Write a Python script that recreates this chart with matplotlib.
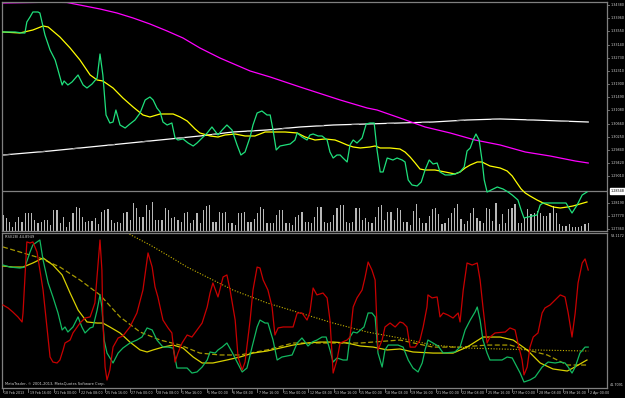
import matplotlib
matplotlib.use("Agg")
import matplotlib.pyplot as plt
from matplotlib.transforms import blended_transform_factory

# ---------------- data (x = bar index of H4 bars, 0 = 18 Feb 2013) ----------------
close_bar = [0.0, 3.8, 6.0, 6.9, 7.5, 8.5, 9.4, 11.0, 11.6, 13.2, 14.8, 16.4, 17.3, 18.6, 19.2, 20.4, 21.7,
             23.6, 25.2, 26.4, 28.0, 29.6, 30.5, 31.4, 32.4, 33.6, 34.6, 35.5, 36.8, 38.4, 39.9, 41.5, 43.1,
             44.7, 46.2, 47.2, 48.4, 49.4, 50.3, 51.6, 53.1, 54.1, 55.0, 56.6, 58.2, 59.8, 61.0, 62.9, 64.2,
             65.7, 67.6, 68.9, 70.4, 72.0, 73.6, 74.8, 76.1, 77.7, 78.6, 79.9, 81.4, 83.0, 84.0, 84.9, 85.9,
             87.1, 88.7, 90.3, 91.8, 92.5, 94.0, 95.6, 96.5, 97.5, 99.1, 100.3, 101.9, 102.8, 103.8, 105.0,
             106.0, 106.9, 108.2, 109.1, 110.1, 111.3, 112.9, 114.2, 115.4, 116.7, 117.6, 118.6, 119.5, 120.8,
             122.6, 123.9, 125.5, 126.4, 127.4, 128.6, 130.2, 131.5, 132.7, 134.0, 135.2, 136.5, 137.4, 139.0,
             140.6, 142.1, 143.7, 145.0, 145.9, 146.9, 147.8, 148.7, 149.7, 150.6, 151.3, 152.2, 154.1, 155.4,
             157.2, 158.8, 160.1, 161.9, 162.9, 163.8, 166.4, 167.9, 168.9, 169.8, 174.2, 177.0, 178.9, 180.5,
             182.1, 183.6]
close_px = [1.33534, 1.33534, 1.33503, 1.33503, 1.33848, 1.34004, 1.34161, 1.34161, 1.34130, 1.33440, 1.32970,
            1.32657, 1.32343, 1.31873, 1.31999, 1.31873, 1.31967, 1.32187, 1.31873, 1.31779, 1.31904, 1.32093,
            1.32845, 1.32187, 1.30933, 1.30682, 1.30713, 1.31089, 1.30619, 1.30525, 1.30651, 1.30776, 1.30995,
            1.31403, 1.31497, 1.31403, 1.31152, 1.31027, 1.30713, 1.30619, 1.30682, 1.30212, 1.30149, 1.30181,
            1.30055, 1.29961, 1.30055, 1.30243, 1.30369, 1.30557, 1.30306, 1.30463, 1.30619, 1.30463, 1.29993,
            1.29679, 1.29773, 1.30243, 1.30619, 1.30995, 1.31058, 1.30933, 1.30933, 1.30463, 1.29836, 1.29961,
            1.29993, 1.30024, 1.30149, 1.30369, 1.30243, 1.30149, 1.30306, 1.30337, 1.30275, 1.30275, 1.30149,
            1.29773, 1.29585, 1.29679, 1.29679, 1.29585, 1.29460, 1.29993, 1.30149, 1.30055, 1.30212, 1.30651,
            1.30682, 1.30682, 1.29836, 1.29147, 1.29147, 1.29585, 1.29522, 1.29585, 1.29522, 1.29460, 1.28896,
            1.28739, 1.28708, 1.28833, 1.29209, 1.29522, 1.29397, 1.29428, 1.29147, 1.29053, 1.29053, 1.29084,
            1.29147, 1.29303, 1.29805, 1.29899, 1.30149, 1.30337, 1.30149, 1.29522, 1.28896, 1.28519, 1.28614,
            1.28676, 1.28614, 1.28519, 1.28425, 1.28269, 1.27955, 1.27705, 1.27767, 1.27799, 1.28112, 1.28175,
            1.28175, 1.28175, 1.27861, 1.28112, 1.28425, 1.28519]

ma_fast_bar = [0.0, 5.3, 9.4, 12.6, 14.2, 17.9, 21.1, 24.2, 27.4, 29.6, 31.4, 34.6, 37.7, 40.9, 44.0, 46.2, 49.4,
               53.5, 55.7, 57.9, 60.4, 61.9, 65.1, 67.6, 69.8, 73.0, 76.1, 79.2, 82.4, 85.5, 88.7, 92.5, 95.0,
               98.1, 101.3, 104.4, 106.0, 108.2, 110.1, 112.3, 115.4, 117.0, 118.6, 121.7, 124.8, 126.4, 128.0,
               129.6, 131.1, 132.7, 135.8, 139.0, 142.1, 143.7, 145.3, 146.9, 149.1, 150.6, 153.1, 156.3, 158.5,
               160.1, 161.6, 162.9, 164.2, 165.7, 167.9, 169.8, 173.0, 175.2, 177.4, 179.2, 181.4, 183.6]
ma_fast_px = [1.33534, 1.33503, 1.33597, 1.33722, 1.33691, 1.33377, 1.33033, 1.32657, 1.32187, 1.32030, 1.31999,
              1.31779, 1.31466, 1.31184, 1.30933, 1.30870, 1.30964, 1.30964, 1.30870, 1.30745, 1.30494, 1.30369,
              1.30275, 1.30243, 1.30306, 1.30337, 1.30275, 1.30275, 1.30400, 1.30400, 1.30400, 1.30369, 1.30243,
              1.30149, 1.30181, 1.30149, 1.30087, 1.29993, 1.29930, 1.29899, 1.29930, 1.29961, 1.29899, 1.29899,
              1.29867, 1.29773, 1.29616, 1.29428, 1.29240, 1.29209, 1.29209, 1.29147, 1.29084, 1.29147, 1.29272,
              1.29366, 1.29460, 1.29460, 1.29334, 1.29272, 1.29178, 1.29021, 1.28801, 1.28614, 1.28488, 1.28394,
              1.28269, 1.28175, 1.28049, 1.28018, 1.28049, 1.28081, 1.28143, 1.28206]

ma_slow_bar = [0.0, 14.8, 20.1, 30.5, 35.8, 40.9, 46.2, 51.6, 56.6, 61.9, 68.2, 77.7, 84.0, 93.4, 106.0, 114.5,
               117.6, 124.8, 132.7, 140.6, 148.4, 156.3, 164.2, 172.0, 179.9, 184.0]
ma_slow_px = [1.34443, 1.34468, 1.34459, 1.34255, 1.34130, 1.33973, 1.33785, 1.33565, 1.33346, 1.33033, 1.32719,
              1.32312, 1.32124, 1.31810, 1.31403, 1.31152, 1.31089, 1.30839, 1.30557, 1.30369, 1.30149, 1.29993,
              1.29773, 1.29648, 1.29491, 1.29428]

ma_long_bar = [0.0, 14.8, 30.5, 46.2, 61.9, 72.3, 83.0, 93.4, 103.8, 114.5, 124.8, 135.2, 145.9, 156.3, 166.7,
               175.2, 184.0]
ma_long_px = [1.29679, 1.29805, 1.29961, 1.30118, 1.30275, 1.30400, 1.30463, 1.30557, 1.30619, 1.30651, 1.30682,
              1.30713, 1.30776, 1.30808, 1.30776, 1.30745, 1.30713]

volume = [16, 13, 9, 4, 9, 14, 9, 18, 18, 18, 11, 8, 9, 11, 11, 6, 21, 21, 8, 14, 4, 9, 18, 24, 23, 14, 9, 10, 10,
          13, 7, 19, 21, 22, 11, 8, 9, 8, 18, 19, 11, 28, 23, 14, 14, 26, 21, 29, 11, 11, 11, 23, 21, 13, 14, 11,
          9, 18, 19, 8, 11, 18, 8, 21, 25, 26,
          9, 9, 19, 18, 19, 8, 8, 6, 18, 18, 19, 9, 9, 12, 18, 24, 22, 8, 8, 8, 16, 21, 21, 8, 8, 6, 14, 16, 19,
          9, 9, 8, 14, 24, 24, 9, 8, 9, 16, 23, 26, 26, 9, 8, 9, 23, 23, 11, 13, 9, 8, 14, 24, 26, 11, 19, 19, 11,
          23, 21, 9, 9, 6,
          20, 27, 13, 8, 8, 15, 22, 23, 17, 7, 8, 13, 18, 23, 27, 12, 7, 10, 18, 23, 13, 10, 8, 23, 22, 10, 28, 7,
          17, 8, 22, 23, 27, 8, 8, 13, 22, 17, 18, 20, 18, 15, 15, 18, 25, 18, 7, 5, 5, 7, 4, 4, 4, 5, 7, 8]

bid_price = 1.28548
price_ticks = [1.34380, 1.33960, 1.33550, 1.33140, 1.32730, 1.32310, 1.31900, 1.31490, 1.31080, 1.30660,
               1.30250, 1.29840, 1.29420, 1.29010, 1.28190, 1.27770, 1.27360]

# lower window
rsi_bar = [0.0, 1.6, 3.1, 4.7, 6.0, 6.3, 6.9, 7.5, 8.5, 9.4, 10.7, 11.6, 12.6, 13.8, 14.8, 15.7, 17.0, 17.9, 18.9,
           19.5, 21.1, 22.0, 24.2, 25.8, 27.4, 28.9, 29.9, 30.5, 31.1, 31.4, 32.1, 32.7, 33.6, 34.6, 36.2, 37.7,
           39.9, 42.1, 44.0, 45.3, 45.6, 46.9, 47.8, 48.7, 50.3, 51.9, 53.1, 54.1, 55.0, 56.3, 57.9, 59.4, 61.0,
           62.6, 64.2, 65.1, 66.0, 67.6, 69.2, 70.4, 71.4, 73.0, 73.9, 75.2, 76.1, 77.7, 78.6, 79.9, 80.8, 81.8,
           83.3, 84.6, 85.5, 86.5, 88.1, 91.2, 92.5, 94.0, 95.6, 96.5, 97.5, 98.7, 100.6, 101.9, 102.8, 103.8,
           105.0, 106.0, 108.2, 109.1, 110.1, 111.3, 112.9, 113.8, 114.8, 116.0, 117.0, 117.9, 119.2, 120.1,
           121.7, 123.3, 124.8, 125.8, 127.0, 128.0, 129.6, 131.1, 132.1, 133.3, 133.6, 134.9, 136.5, 137.4,
           138.4, 139.9, 141.5, 143.1, 143.7, 144.7, 145.9, 147.5, 149.1, 150.0, 150.9, 152.2, 153.1, 154.7,
           157.9, 159.4, 161.0, 161.9, 163.2, 163.8, 164.8, 165.7, 166.7, 168.2, 169.5, 170.4, 172.0, 173.6,
           175.2, 176.7, 177.7, 178.9, 179.9, 180.8, 182.1, 183.0, 184.0]
rsi_val = [47.82, 47.60, 47.30, 46.94, 46.57, 47.23, 49.88, 52.46, 52.38, 52.46, 51.72, 50.39, 48.92, 46.20, 43.99,
           43.62, 43.55, 43.77, 44.51, 45.02, 45.24, 45.76, 46.49, 46.86, 46.94, 47.97, 50.91, 52.60, 50.39, 46.71,
           43.25, 42.30, 43.03, 44.72, 45.39, 45.54, 46.20, 47.23, 48.92, 51.13, 51.65, 50.61, 49.15, 48.41, 46.71,
           46.13, 45.76, 43.62, 44.28, 45.02, 45.61, 45.46, 45.98, 46.49, 47.67, 48.70, 49.44, 48.41, 49.88, 50.03,
           48.92, 46.71, 43.99, 43.03, 43.62, 46.71, 48.92, 50.61, 50.54, 49.66, 48.92, 47.67, 45.61, 46.13, 46.20,
           46.20, 47.23, 47.23, 46.71, 47.30, 49.07, 48.56, 48.70, 48.34, 46.71, 42.81, 43.77, 45.02, 45.24, 45.46,
           47.67, 48.34, 48.92, 49.81, 50.98, 50.39, 49.66, 44.51, 45.24, 46.20, 46.49, 46.20, 46.57, 46.49, 46.20,
           44.72, 44.72, 45.24, 46.20, 47.67, 48.56, 48.34, 48.41, 46.94, 47.23, 47.08, 46.86, 47.23, 46.57, 48.92,
           50.91, 50.76, 50.91, 49.66, 47.67, 45.02, 45.46, 45.76, 45.83, 46.13, 45.98, 45.02, 43.77, 42.67, 43.25,
           44.72, 45.46, 45.76, 47.23, 47.60, 47.82, 48.19, 48.56, 48.41, 47.23, 45.46, 47.23, 49.44, 50.91, 51.21,
           50.39]

sig_bar = [0.0, 2.2, 5.3, 6.9, 8.5, 9.4, 10.7, 11.6, 12.6, 14.2, 15.7, 17.3, 18.6, 19.5, 20.4, 22.0, 23.6, 24.8,
           25.8, 27.4, 28.3, 29.6, 30.5, 31.1, 31.8, 32.7, 34.6, 36.2, 37.7, 39.9, 42.1, 43.7, 45.3, 46.9, 48.4,
           50.3, 51.9, 53.5, 54.7, 57.9, 59.4, 61.0, 62.6, 64.2, 65.1, 66.7, 67.6, 68.9, 70.4, 72.0, 73.6, 75.2,
           76.7, 78.3, 79.9, 80.8, 82.4, 83.3, 84.9, 86.2, 87.7, 90.9, 92.5, 94.0, 95.0, 95.9, 97.2, 98.7, 100.3,
           101.6, 102.8, 103.8, 105.0, 106.9, 108.2, 109.1, 110.1, 111.3, 113.5, 114.8, 116.0, 117.0, 117.9,
           119.2, 120.1, 121.1, 124.2, 125.8, 127.4, 128.9, 130.5, 131.8, 132.7, 133.6, 135.2, 136.8, 138.4,
           142.1, 143.7, 145.3, 146.9, 148.4, 149.1, 150.0, 150.9, 152.2, 153.1, 156.9, 158.5, 160.1, 161.6,
           162.6, 163.8, 165.7, 167.3, 169.5, 171.4, 173.6, 175.2, 176.7, 177.7, 178.9, 179.9, 181.4, 183.0, 184.0]
sig_val = [50.76, 50.61, 50.54, 50.61, 51.72, 52.24, 52.46, 52.60, 51.13, 49.44, 48.41, 47.23, 45.98, 46.20, 45.83,
           46.20, 46.94, 46.20, 45.76, 46.13, 46.20, 47.45, 48.56, 47.67, 45.24, 44.28, 43.55, 44.28, 44.65, 45.02,
           45.24, 45.46, 46.13, 45.98, 45.24, 44.72, 44.72, 44.65, 43.18, 43.18, 42.81, 42.89, 43.25, 43.77, 44.36,
           44.28, 44.51, 44.72, 45.02, 44.36, 43.62, 42.89, 43.18, 44.72, 46.20, 46.71, 46.49, 46.49, 45.24, 43.77,
           43.99, 44.14, 45.02, 45.39, 45.09, 44.80, 45.09, 45.24, 45.46, 45.46, 44.51, 43.62, 43.92, 43.77, 43.77,
           45.46, 45.83, 45.76, 46.20, 47.23, 47.23, 46.94, 44.28, 43.25, 44.51, 44.87, 44.87, 44.72, 43.77, 43.18,
           42.89, 43.55, 44.51, 45.24, 45.02, 44.80, 44.28, 44.36, 44.72, 45.98, 46.71, 47.30, 47.67, 46.71, 45.24,
           44.28, 43.77, 43.77, 43.99, 43.92, 43.25, 42.81, 42.15, 42.30, 42.52, 43.25, 43.62, 43.55, 43.62, 43.55,
           43.25, 42.81, 43.25, 44.28, 44.72, 44.72]

avg1_bar = [0.0, 3.1, 6.3, 9.4, 12.6, 15.7, 18.6, 21.1, 23.6, 26.4, 29.6, 31.4, 33.6, 36.8, 39.9, 43.1, 45.3, 47.2,
            50.3, 53.5, 56.6, 59.8, 62.6, 66.0, 70.4, 74.5, 78.6, 83.0, 87.1, 91.2, 95.6, 99.7, 103.8, 108.2, 112.3,
            116.4, 120.8, 124.8, 128.9, 135.2, 141.5, 145.9, 150.9, 156.3, 160.4, 164.8, 168.9, 172.9, 177.4, 179.2,
            183.6]
avg1_val = [50.69, 50.61, 50.61, 50.91, 51.28, 50.76, 50.03, 48.70, 47.45, 46.57, 46.49, 46.49, 46.20, 45.76, 45.09,
            44.51, 44.36, 44.51, 44.72, 44.87, 44.65, 43.99, 43.55, 43.55, 43.77, 43.99, 44.28, 44.43, 44.65, 44.87,
            45.02, 45.09, 45.09, 45.02, 44.80, 44.72, 44.51, 44.58, 44.36, 44.28, 44.28, 44.72, 45.46, 45.46, 45.24,
            44.51, 43.55, 43.11, 42.96, 43.18, 43.77]

avg2_bar = [0.0, 5.3, 11.6, 17.9, 24.2, 30.5, 36.8, 43.1, 49.4, 55.7, 61.9, 68.2, 74.5, 83.0, 91.2, 99.7, 112.3,
            124.8, 135.2, 143.7, 152.2, 159.4, 164.8, 171.1, 177.4, 184.0]
avg2_val = [52.09, 51.72, 51.28, 50.61, 49.66, 48.56, 46.94, 45.83, 45.24, 44.87, 44.28, 44.14, 44.14, 44.51, 45.02,
            45.02, 45.02, 45.24, 44.72, 44.72, 44.87, 44.87, 44.51, 44.14, 43.40, 43.40]

avg3_bar = [39.0, 46.2, 51.6, 57.9, 63.5, 72.3, 83.0, 93.4, 103.8, 114.5, 124.8, 135.2, 145.9, 156.3, 166.7, 184.0]
avg3_val = [53.12, 52.24, 51.50, 50.61, 49.95, 48.92, 47.97, 47.23, 46.49, 45.83, 45.39, 44.87, 44.65, 44.58, 44.51,
            44.43]

time_labels = ["18 Feb 2013", "19 Feb 16:00", "21 Feb 00:00", "22 Feb 08:00", "25 Feb 16:00", "27 Feb 00:00",
               "28 Feb 08:00", "1 Mar 16:00", "5 Mar 00:00", "6 Mar 08:00", "7 Mar 16:00", "11 Mar 00:00",
               "12 Mar 08:00", "13 Mar 16:00", "15 Mar 00:00", "18 Mar 08:00", "19 Mar 16:00", "21 Mar 00:00",
               "22 Mar 08:00", "25 Mar 16:00", "27 Mar 00:00", "28 Mar 08:00", "29 Mar 16:00", "2 Apr 00:00"]
time_label_bar = list(range(0, 8 * len(time_labels), 8))

rsi_top, rsi_bottom = 53.1172, 41.7091

# ---------------- figure ----------------
W, H = 625, 398
fig = plt.figure(figsize=(W / 100, H / 100), dpi=100, facecolor="black")
plt.rcParams['font.family'] = ['DejaVu Sans']
GRID = "#808080"
TXT = "#d0d0d0"
FS_T = 2.35   # time labels
FS_P = 2.45   # price labels
FS_S = 2.6    # other small texts

left, right = 2, 607
ax1 = fig.add_axes([left / W, 1 - 231 / H, (right - left) / W, 229 / H])
ax2 = fig.add_axes([left / W, 1 - 388 / H, (right - left) / W, 155 / H])
xlim = (-0.31, 189.9)

for ax in (ax1, ax2):
    ax.set_facecolor("black")
    ax.set_xlim(*xlim)
    ax.set_xticks([])
    ax.set_yticks([])
    for s in ax.spines.values():
        s.set_color(GRID)
        s.set_linewidth(0.9)

# volumes at the bottom of the main window
axv = ax1.twinx()
axv.set_xlim(*xlim)
axv.set_ylim(0, max(volume) * 229 / 29)
axv.set_yticks([])
for s in axv.spines.values():
    s.set_visible(False)
axv.bar(range(len(volume)), volume, width=0.38, color="#b8b8b8", linewidth=0, zorder=1)

ax1.set_zorder(axv.get_zorder() + 1)
ax1.patch.set_visible(False)
axv.patch.set_facecolor("black")

ax1.set_ylim(1.27297, 1.34474)
ax1.axhline(bid_price, color=GRID, lw=0.9, zorder=1)
ax1.plot(ma_long_bar, ma_long_px, color="white", lw=0.9, zorder=2)
ax1.plot(ma_long_bar, ma_long_px, color="#9a9a9a", lw=0.9, dashes=(6, 22), zorder=2)
ax1.plot(ma_slow_bar, ma_slow_px, color="#ff00ff", lw=0.9, zorder=2)
ax1.plot(ma_fast_bar, ma_fast_px, color="#ffff00", lw=0.9, zorder=3)
ax1.plot(close_bar, close_px, color="#1fe07c", lw=0.9, zorder=4)

# price axis labels
tr1 = blended_transform_factory(ax1.transAxes, ax1.transData)
for p in price_ticks:
    ax1.plot([1.0, 1.004], [p, p], transform=tr1, color=GRID, lw=0.6, clip_on=False)
    ax1.text(1.0055, p, f"{p:.5f}", transform=tr1, color=TXT, fontsize=FS_P, va="center", ha="left")
ax1.text(1.0055, bid_price, f"{bid_price:.5f}", transform=tr1, color="black", fontsize=FS_P, va="center",
         ha="left", bbox=dict(boxstyle="square,pad=0.2", fc="white", ec="white"))

# lower window
ax2.set_ylim(rsi_bottom, rsi_top)
ax2.plot(avg3_bar, avg3_val, color="#c8b400", lw=0.8, dashes=(1, 1.5), zorder=2)
ax2.plot(avg2_bar, avg2_val, color="#a89a00", lw=0.9, dashes=(4, 2), zorder=2)
ax2.plot(avg1_bar, avg1_val, color="#d8d000", lw=0.9, zorder=3)
ax2.plot(sig_bar, sig_val, color="#12b860", lw=0.9, zorder=4)
ax2.plot(rsi_bar, rsi_val, color="#c80000", lw=0.9, zorder=5)

ax2.text(3 / (right - left), 1 - 2 / 155, "RSI(28) 44.8949", transform=ax2.transAxes, color=TXT,
         fontsize=FS_S, va="top", ha="left")
ax2.text(3 / (right - left), 4 / 155, "MetaTrader, \u00a9 2001-2013, MetaQuotes Software Corp.",
         transform=ax2.transAxes, color=TXT, fontsize=FS_S, va="center", ha="left")
ax2.text(1.0055, 1 - 3 / 155, f"{rsi_top:.4f}", transform=ax2.transAxes, color=TXT, fontsize=FS_P,
         va="center", ha="left")
ax2.text(1.0055, 3 / 155, f"{rsi_bottom:.4f}", transform=ax2.transAxes, color=TXT, fontsize=FS_P,
         va="center", ha="left")

# time axis
tr2 = blended_transform_factory(ax2.transData, ax2.transAxes)
for b, lab in zip(time_label_bar, time_labels):
    ax2.plot([b, b], [0, -4 / 155], transform=tr2, color=GRID, lw=0.6, clip_on=False)
    ax2.text(b + 0.4, -3 / 155, lab, transform=tr2, color=TXT, fontsize=FS_T, va="top", ha="left")

fig.savefig("out.png", dpi=100, facecolor="black")
